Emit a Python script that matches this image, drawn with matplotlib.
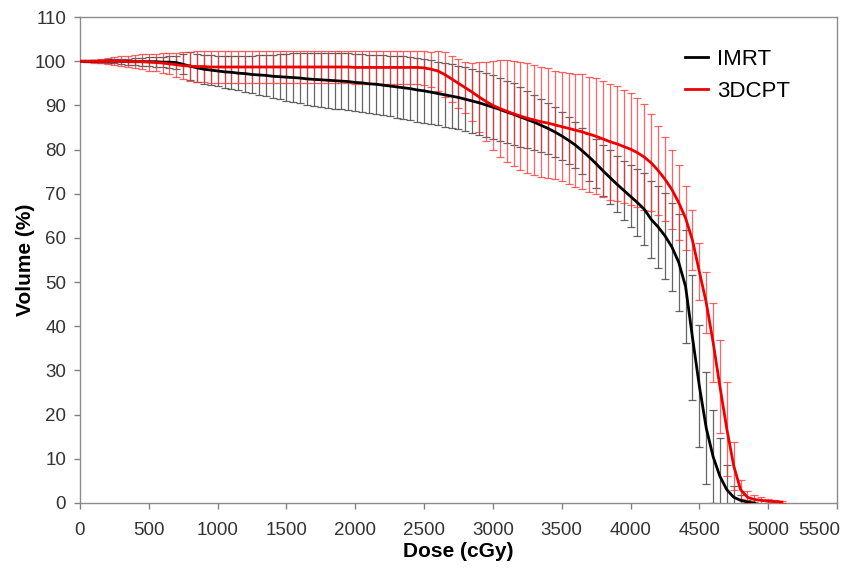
import matplotlib
matplotlib.use("Agg")
import matplotlib.pyplot as plt
import matplotlib.transforms as mtransforms

plt.rcParams['font.family'] = ['Liberation Sans', 'DejaVu Sans']

# Dose grid (cGy)
dose_imrt = list(range(0, 4950, 50))     # 0 .. 4900
dose_3d = list(range(0, 5150, 50))       # 0 .. 5100

imrt_mean = [
    100, 100, 100, 100, 100, 100, 100, 99.9, 99.9, 99.9,          # 0-450
    99.9, 99.9, 99.8, 99.8, 99.7, 99.3, 98.9, 98.5, 98.2, 98.0,   # 500-950
    97.8, 97.6, 97.5, 97.3, 97.2, 97.0, 96.9, 96.8, 96.6, 96.5,   # 1000-1450
    96.4, 96.3, 96.2, 96.0, 95.9, 95.8, 95.7, 95.6, 95.5, 95.4,   # 1500-1950
    95.2, 95.1, 94.9, 94.8, 94.6, 94.4, 94.2, 94.0, 93.8, 93.5,   # 2000-2450
    93.3, 93.0, 92.7, 92.4, 92.1, 91.8, 91.4, 91.0, 90.6, 90.1,   # 2500-2950
    89.6, 89.1, 88.5, 88.0, 87.4, 86.8, 86.2, 85.5, 84.8, 84.0,   # 3000-3450
    83.1, 82.1, 81.0, 79.7, 78.3, 76.8, 75.2, 73.7, 72.2, 70.8,   # 3500-3950
    69.4, 68.0, 66.5, 64.2, 62.5, 60.5, 58.0, 54.5, 49.0, 37.5,   # 4000-4450
    26.5, 17.0, 10.5, 6.0, 3.0, 1.3, 0.6, 0.2, 0.0,               # 4500-4900
]
imrt_sd = [
    0.0, 0.1, 0.2, 0.3, 0.4, 0.5, 0.6, 0.7, 0.8, 0.9,
    1.0, 1.1, 1.2, 1.3, 1.5, 2.3, 3.1, 3.2, 3.3, 3.4,
    3.5, 3.6, 3.8, 3.9, 4.1, 4.3, 4.5, 4.7, 4.9, 5.1,
    5.3, 5.5, 5.7, 5.9, 6.0, 6.1, 6.2, 6.3, 6.3, 6.4,
    6.5, 6.5, 6.6, 6.7, 6.8, 6.9, 7.0, 7.1, 7.2, 7.2,
    7.2, 7.2, 7.2, 7.2, 7.2, 7.2, 7.2, 7.2, 7.2, 7.2,
    7.2, 7.2, 7.1, 7.0, 6.8, 6.5, 6.2, 6.0, 5.8, 5.6,
    5.4, 5.3, 5.2, 5.2, 5.3, 5.5, 5.8, 6.1, 6.4, 6.7,
    7.0, 7.6, 8.2, 8.8, 9.3, 9.7, 10.0, 11.0, 12.8, 14.1,
    13.8, 12.6, 10.6, 8.7, 5.5, 2.5, 1.2, 0.5, 0.2,
]

cpt_mean = [
    100, 100, 100, 100, 100, 100, 100, 99.9, 99.9, 99.9,          # 0-450
    99.8, 99.7, 99.6, 99.4, 99.2, 99.0, 98.9, 98.8, 98.8, 98.7,   # 500-950
    98.7, 98.7, 98.7, 98.7, 98.7, 98.7, 98.7, 98.7, 98.7, 98.7,   # 1000-1450
    98.7, 98.7, 98.7, 98.7, 98.7, 98.7, 98.7, 98.7, 98.7, 98.7,   # 1500-1950
    98.6, 98.6, 98.6, 98.6, 98.6, 98.6, 98.6, 98.6, 98.6, 98.6,   # 2000-2450
    98.5, 98.2, 97.8, 97.0, 96.0, 95.0, 94.0, 93.0, 91.9, 90.9,   # 2500-2950
    90.0, 89.3, 88.7, 88.1, 87.6, 87.1, 86.7, 86.3, 86.0, 85.6,   # 3000-3450
    85.2, 84.8, 84.4, 84.0, 83.5, 83.0, 82.4, 81.8, 81.3, 80.7,   # 3500-3950
    80.1, 79.3, 78.3, 77.0, 75.3, 73.3, 71.0, 68.0, 64.5, 59.5,   # 4000-4450
    52.4, 45.4, 36.4, 26.3, 16.7, 8.4, 3.0, 1.3, 0.8, 0.6,        # 4500-4950
    0.4, 0.3, 0.2,                                                # 5000-5100
]
cpt_sd = [
    0.0, 0.1, 0.3, 0.5, 0.7, 0.9, 1.1, 1.3, 1.5, 1.7,
    1.9, 2.0, 2.2, 2.4, 2.7, 3.0, 3.3, 3.5, 3.6, 3.7,
    3.7, 3.7, 3.7, 3.7, 3.7, 3.7, 3.7, 3.7, 3.7, 3.7,
    3.7, 3.7, 3.7, 3.7, 3.7, 3.7, 3.7, 3.7, 3.7, 3.7,
    3.7, 3.7, 3.7, 3.7, 3.7, 3.7, 3.8, 3.8, 3.8, 3.8,
    3.8, 4.0, 4.5, 5.0, 5.3, 5.5, 5.8, 6.5, 8.0, 9.0,
    10.0, 11.0, 11.5, 11.9, 12.2, 12.4, 12.5, 12.5, 12.4, 12.3,
    12.4, 12.6, 12.8, 13.0, 13.0, 13.1, 13.2, 13.1, 13.0, 12.8,
    12.6, 12.3, 12.0, 11.0, 10.0, 9.5, 9.0, 8.5, 7.3, 6.8,
    6.5, 7.0, 8.9, 10.5, 10.7, 5.5, 2.2, 1.4, 1.0, 0.8,
    0.6, 0.45, 0.3,
]

series_labels = ["IMRT", "3DCPT"]
x_ticks = list(range(0, 6000, 500))
y_ticks = list(range(0, 120, 10))

fig = plt.figure(figsize=(8.51, 5.69), dpi=100)
ax = fig.add_axes([0.094, 0.116, 0.8895, 0.854])

ax.errorbar(dose_imrt, imrt_mean, yerr=imrt_sd, fmt='none', ecolor='#404040',
            elinewidth=0.9, capsize=2.6, capthick=0.9, alpha=0.8, zorder=2)
ax.errorbar(dose_3d, cpt_mean, yerr=cpt_sd, fmt='none', ecolor='#ff3030',
            elinewidth=0.9, capsize=2.6, capthick=0.9, alpha=0.75, zorder=3)
ax.plot(dose_imrt, imrt_mean, color='black', lw=2.0, zorder=4, label=series_labels[0])
ax.plot(dose_3d, cpt_mean, color='#ee0000', lw=2.0, zorder=5, label=series_labels[1])

ax.set_xlim(0, 5500)
ax.set_ylim(0, 110)
ax.set_xticks(x_ticks)
ax.set_yticks(y_ticks)
ax.tick_params(axis='both', labelsize=13.5, length=4, width=1, color='#808080',
               labelcolor='#333333', direction='out')
ax.tick_params(axis='x', pad=10)
ax.tick_params(axis='y', pad=6)
for s in ax.spines.values():
    s.set_color('#8c8c8c')
    s.set_linewidth(1.0)

# last x tick label shifted left so it stays inside the picture
fig.canvas.draw()
last = ax.get_xticklabels()[-1]
last.set_horizontalalignment('right')
last.set_transform(last.get_transform() + mtransforms.ScaledTranslation(3 / 100, 0, fig.dpi_scale_trans))

ax.set_xlabel('Dose (cGy)', fontsize=15, fontweight='bold', labelpad=2)
ax.set_ylabel('Volume (%)', fontsize=15, fontweight='bold', labelpad=0)
ax.yaxis.set_label_coords(-0.060, 0.5)

leg = ax.legend(loc='upper left', bbox_to_anchor=(685 / 851, 1 - 49 / 569),
                bbox_transform=fig.transFigure, frameon=False, borderaxespad=0,
                borderpad=0, fontsize=16, handlelength=1.05, handletextpad=0.4,
                labelspacing=0.5)

fig.savefig('out.png', dpi=100)
